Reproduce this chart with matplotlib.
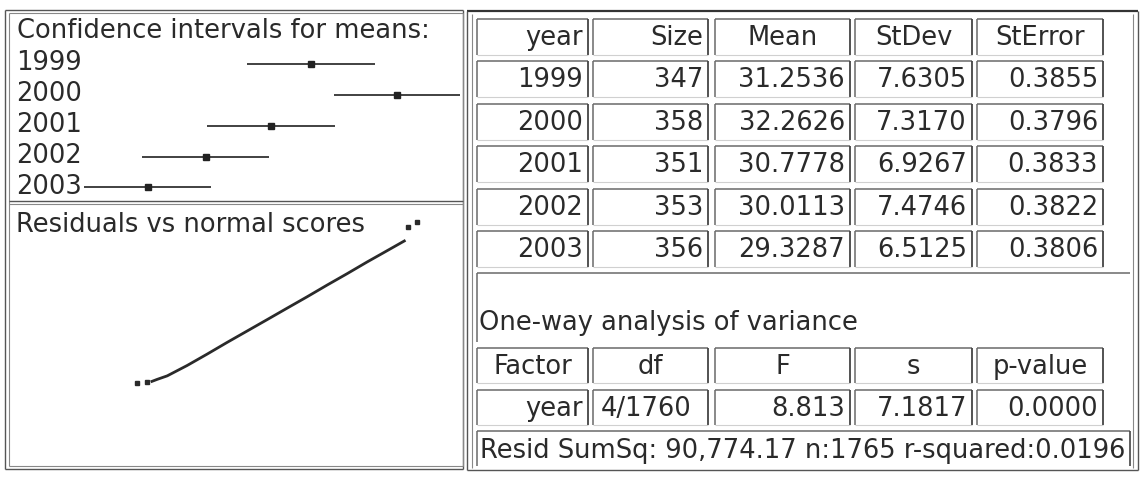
import matplotlib
matplotlib.use("Agg")
import matplotlib.pyplot as plt
import numpy as np

# ---------------- data ----------------
years = ["1999", "2000", "2001", "2002", "2003"]
sizes = [347, 358, 351, 353, 356]
means = [31.2536, 32.2626, 30.7778, 30.0113, 29.3287]
stdevs = [7.6305, 7.3170, 6.9267, 7.4746, 6.5125]
sterrs = [0.3855, 0.3796, 0.3833, 0.3822, 0.3806]
t_crit = 1.96

table_header = ["year", "Size", "Mean", "StDev", "StError"]
anova_header = ["Factor", "df", "F", "s", "p-value"]
anova_row = ["year", "4/1760", "8.813", "7.1817", "0.0000"]
summary_text = "Resid SumSq: 90,774.17 n:1765 r-squared:0.0196"

# normal scores vs residuals
norm_scores = [-3.30, -3.07, -2.95, -2.83, -2.59, -2.12, -1.65, -1.18, -0.71, -0.24,
               0.24, 0.71, 1.18, 1.65, 2.12, 2.50, 3.00, 3.09, 3.30]
residuals = [-22.2, -21.9, -21.7, -21.1, -20.0, -16.8, -13.3, -9.7, -6.2, -2.7,
             0.9, 4.4, 8.0, 11.5, 15.1, 17.9, 21.6, 25.9, 27.5]

# ---------------- figure ----------------
W, H = 1143, 478
fig = plt.figure(figsize=(W / 100, H / 100), dpi=100)
fig.patch.set_facecolor("white")
plt.rcParams["font.family"] = ["DejaVu Sans"]
TXT = "#2a2a2a"
FS = 18.5

# overlay axis in pixel coordinates
ov = fig.add_axes([0, 0, 1, 1])
ov.set_xlim(0, W)
ov.set_ylim(H, 0)
ov.axis("off")


def hline(x0, x1, y, c="#555555", lw=1.0):
    ov.plot([x0, x1], [y, y], color=c, lw=lw, solid_capstyle="butt")


def vline(x, y0, y1, c="#555555", lw=1.0):
    ov.plot([x, x], [y0, y1], color=c, lw=lw, solid_capstyle="butt")


def rect(x0, y0, x1, y1, c="#555555", lw=1.0):
    hline(x0, x1, y0, c, lw)
    hline(x0, x1, y1, c, lw)
    vline(x0, y0, y1, c, lw)
    vline(x1, y0, y1, c, lw)


def cell(x0, y0, x1, y1):
    hline(x0, x1, y0, "#6a6a6a", 1.1)
    vline(x0, y0, y1, "#6a6a6a", 1.1)
    vline(x1, y0, y1, "#444444", 1.3)
    hline(x0, x1, y1, "#d0d0d0", 0.8)


# ---- left panel borders ----
rect(5, 10, 463, 469, "#555555", 1.0)
rect(9, 13, 463, 466, "#888888", 0.8)
hline(9, 463, 201, "#555555", 1.0)
hline(9, 463, 204, "#888888", 0.8)

# ---- right panel borders ----
hline(467, 1138, 11, "#333333", 1.6)
vline(467, 11, 470, "#555555", 1.0)
vline(472, 14, 468, "#888888", 0.8)
vline(1138, 11, 470, "#555555", 1.0)
vline(1133, 14, 468, "#888888", 0.8)
hline(467, 1138, 470, "#555555", 1.0)

# ---- confidence intervals panel ----
ov.text(17, 31, "Confidence intervals for means:", fontsize=FS, color=TXT,
        va="center", ha="left")
ci = fig.add_axes([12 / W, 1 - 200 / H, (462 - 12) / W, (200 - 13) / H])
ci.set_xlim(27.73, 33.03)
ci.set_ylim(4.41, -1.655)
ci.axis("off")
ypos = np.arange(len(years))
lo = [m - t_crit * s for m, s in zip(means, sterrs)]
hi = [m + t_crit * s for m, s in zip(means, sterrs)]
ci.hlines(ypos, lo, hi, color="#333333", lw=1.3)
ci.plot(means, ypos, "s", color="#222222", ms=4.2, ls="none")
for i, y in enumerate(years):
    ov.text(16, 63.3 + 31 * i, y, fontsize=FS, color=TXT, va="center", ha="left")

# ---- residuals vs normal scores panel ----
ov.text(16, 225, "Residuals vs normal scores", fontsize=FS, color=TXT,
        va="center", ha="left")
ra = fig.add_axes([12 / W, 1 - 466 / H, (462 - 12) / W, (466 - 204) / H])
ra.set_xlim(-6.25, 4.36)
ra.set_ylim(-47.8, 33.0)
ra.axis("off")
ra.plot(norm_scores[2:17], residuals[2:17], color="#2a2a2a", lw=2.0)
ends = [0, 1, 17, 18]
ra.plot([norm_scores[i] for i in ends], [residuals[i] for i in ends], "s",
        color="#2a2a2a", ms=2.4, ls="none")

# ---- summary table ----
cols = [(477, 588), (593, 708), (715, 850), (855, 972), (977, 1103)]
pitch = 42.4
cell_h = 36
for r in range(6):
    top = 19 + pitch * r
    for (x0, x1) in cols:
        cell(x0, top, x1, top + cell_h)
    yc = top + cell_h / 2 + 1
    if r == 0:
        for j, lab in enumerate(table_header):
            x0, x1 = cols[j]
            if j < 2:
                ov.text(x1 - 5, yc, lab, fontsize=FS, color=TXT, va="center", ha="right")
            else:
                ov.text((x0 + x1) / 2, yc, lab, fontsize=FS, color=TXT, va="center", ha="center")
    else:
        k = r - 1
        vals = [years[k], str(sizes[k]), f"{means[k]:.4f}", f"{stdevs[k]:.4f}",
                f"{sterrs[k]:.4f}"]
        for j, v in enumerate(vals):
            x0, x1 = cols[j]
            ov.text(x1 - 5, yc, v, fontsize=FS, color=TXT, va="center", ha="right")

# empty box with ANOVA title
hline(477, 1130, 273, "#6a6a6a", 1.1)
vline(477, 273, 342, "#6a6a6a", 1.1)
ov.text(479, 323, "One-way analysis of variance", fontsize=FS, color=TXT,
        va="center", ha="left")

# ANOVA table
for r in range(2):
    top = 348 + 42 * r
    for (x0, x1) in cols:
        cell(x0, top, x1, top + 35)
    yc = top + 35 / 2 + 1
    if r == 0:
        for j, lab in enumerate(anova_header):
            x0, x1 = cols[j]
            ov.text((x0 + x1) / 2, yc, lab, fontsize=FS, color=TXT, va="center", ha="center")
    else:
        for j, v in enumerate(anova_row):
            x0, x1 = cols[j]
            if j == 1:
                ov.text(x0 + 8, yc, v, fontsize=FS, color=TXT, va="center", ha="left")
            else:
                ov.text(x1 - 5, yc, v, fontsize=FS, color=TXT, va="center", ha="right")

# summary row
hline(477, 1130, 431, "#6a6a6a", 1.1)
vline(477, 431, 466, "#6a6a6a", 1.1)
vline(1130, 431, 466, "#444444", 1.2)
ov.text(480, 451, summary_text, fontsize=FS, color=TXT, va="center", ha="left")

fig.savefig("out.png", dpi=100, facecolor="white")
